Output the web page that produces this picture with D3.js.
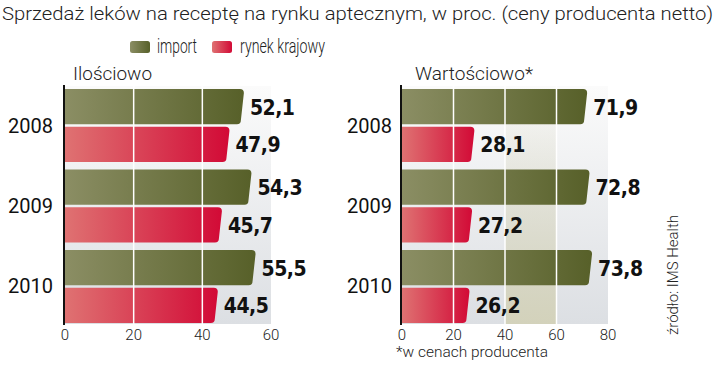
<!DOCTYPE html>
<html>
<head>
<meta charset="utf-8">
<script src="https://cdn.jsdelivr.net/npm/d3@7"></script>
<style>
  body { margin: 0; background: #fff; }
  svg { display: block; }
  .light { font-family: Roboto, "Noto Sans", sans-serif; font-weight: 300; fill: #222; }
  .val { font-family: "DejaVu Sans Condensed", "DejaVu Sans", sans-serif; font-weight: bold; font-stretch: condensed; fill: #111; letter-spacing: -0.5px; }
  .year { font-family: Roboto, "Noto Sans", sans-serif; font-weight: 400; fill: #111; }
</style>
</head>
<body>
<div id="chart"></div>
<script>
// dane
const years = ["2008", "2009", "2010"];
const series = ["import", "rynek krajowy"];
const ilosciowoImport = [52.1, 54.3, 55.5];
const ilosciowoKrajowy = [47.9, 45.7, 44.5];
const wartosciowoImport = [71.9, 72.8, 73.8];
const wartosciowoKrajowy = [28.1, 27.2, 26.2];
const ticksLeft = [0, 20, 40, 60];
const ticksRight = [0, 20, 40, 60, 80];

const W = 720, H = 367;
const svg = d3.select("#chart").append("svg").attr("width", W).attr("height", H);

// gradienty
const defs = svg.append("defs");
const grad = (id, c0, c1, vertical) => {
  const g = defs.append("linearGradient").attr("id", id)
    .attr("x1", 0).attr("y1", 0).attr("x2", vertical ? 0 : 1).attr("y2", vertical ? 1 : 0);
  g.append("stop").attr("offset", "0%").attr("stop-color", c0);
  g.append("stop").attr("offset", "100%").attr("stop-color", c1);
};
grad("gImport", "#8b8e64", "#576029");
grad("gKraj", "#df7272", "#d20a36");
grad("gBg", "#fbfbfb", "#dcdfe3", true);
grad("gBand", "rgba(215,213,190,0)", "#d3d2bb", true);

const colors = { "import": "url(#gImport)", "rynek krajowy": "url(#gKraj)" };

// tytuł
svg.append("text").attr("class", "light")
  .attr("x", 2).attr("y", 20)
  .attr("font-size", 19)
  .attr("textLength", 711).attr("lengthAdjust", "spacingAndGlyphs")
  .text("Sprzedaż leków na receptę na rynku aptecznym, w proc. (ceny producenta netto)");

// legenda
const legend = [{ name: "import", x: 130, tx: 157, w: 40 }, { name: "rynek krajowy", x: 212, tx: 240, w: 85 }];
legend.forEach(l => {
  svg.append("rect").attr("x", l.x).attr("y", 41).attr("width", 20).attr("height", 12)
    .attr("rx", 2.5).attr("fill", colors[l.name]);
  svg.append("text").attr("class", "light").attr("x", l.tx).attr("y", 53)
    .attr("font-size", 19.5).attr("textLength", l.w).attr("lengthAdjust", "spacingAndGlyphs")
    .text(l.name);
});

// ścieżka słupka z zaokrąglonym, skośnym końcem
const barPath = (x0, y0, x1, h) => {
  const r = 4, s = 3;
  return `M${x0},${y0}H${x1 - r}Q${x1},${y0} ${x1},${y0 + r}` +
    `L${x1 - s},${y0 + h - r}Q${x1 - s},${y0 + h} ${x1 - s - r},${y0 + h}H${x0}Z`;
};

const y = d3.scaleBand().domain(years).range([89, 323]).paddingInner(0.093).paddingOuter(0);
const ySub = d3.scaleBand().domain(series).range([0, y.bandwidth()]).paddingInner(0.07);

function panel(opt) {
  const x = d3.scaleLinear().domain([0, opt.max]).range([opt.x0, opt.x1]);
  const g = svg.append("g");

  // tło
  g.append("rect").attr("x", x(0)).attr("y", 86).attr("width", x(opt.max) - x(0))
    .attr("height", 238).attr("fill", "url(#gBg)");
  if (opt.band) {
    g.append("rect").attr("x", x(opt.band[0])).attr("y", 86)
      .attr("width", x(opt.band[1]) - x(opt.band[0])).attr("height", 238)
      .attr("fill", "url(#gBand)");
  }

  const rows = [];
  years.forEach((yr, i) => {
    rows.push({ year: yr, s: "import", v: opt.imp[i] });
    rows.push({ year: yr, s: "rynek krajowy", v: opt.kraj[i] });
  });

  g.selectAll("path.bar").data(rows).enter().append("path")
    .attr("class", "bar")
    .attr("d", d => barPath(x(0), y(d.year) + ySub(d.s), x(d.v), ySub.bandwidth()))
    .attr("fill", d => colors[d.s]);

  // linie siatki
  g.selectAll("line.grid").data(opt.ticks.filter(t => t > 0 && t < opt.max)).enter()
    .append("line").attr("class", "grid")
    .attr("x1", d => x(d)).attr("x2", d => x(d))
    .attr("y1", 86).attr("y2", 324)
    .attr("stroke", "#fff").attr("stroke-width", 1.5);

  // wartości
  g.selectAll("text.val").data(rows).enter().append("text")
    .attr("class", "val")
    .attr("x", d => x(d.v) + 6)
    .attr("y", d => y(d.year) + ySub(d.s) + ySub.bandwidth() / 2 + 8)
    .attr("font-size", 21)
    .text(d => d3.format(".1f")(d.v).replace(".", ","));

  // oś
  g.append("line").attr("x1", x(0) - 1).attr("x2", x(0) - 1).attr("y1", 85).attr("y2", 325)
    .attr("stroke", "#111").attr("stroke-width", 2);

  g.selectAll("text.tick").data(opt.ticks).enter().append("text")
    .attr("class", "light").attr("x", d => x(d)).attr("y", 340)
    .attr("text-anchor", "middle").attr("font-size", 15).attr("fill", "#444")
    .text(d => d);

  // lata
  g.selectAll("text.year").data(years).enter().append("text")
    .attr("class", "year")
    .attr("x", opt.yearX).attr("y", d => y(d) + y.bandwidth() / 2 + 7)
    .attr("text-anchor", "end").attr("font-size", 20)
    .text(d => d);

  g.append("text").attr("class", "light").attr("x", opt.titleX).attr("y", 80)
    .attr("font-size", 18).attr("textLength", opt.titleW).attr("lengthAdjust", "spacingAndGlyphs")
    .text(opt.title);
}

panel({ x0: 65, x1: 271, max: 60, ticks: ticksLeft, imp: ilosciowoImport, kraj: ilosciowoKrajowy,
  yearX: 53, title: "Ilościowo", titleX: 73, titleW: 79 });
panel({ x0: 402, x1: 608, max: 80, ticks: ticksRight, imp: wartosciowoImport, kraj: wartosciowoKrajowy,
  yearX: 392, title: "Wartościowo*", titleX: 415, titleW: 118, band: [40, 60] });

// przypis i źródło
svg.append("text").attr("class", "light").attr("x", 396).attr("y", 357)
  .attr("font-size", 14.5).attr("textLength", 152).attr("lengthAdjust", "spacingAndGlyphs")
  .text("*w cenach producenta");

svg.append("text").attr("class", "light")
  .attr("transform", "translate(678,335) rotate(-90)")
  .attr("font-size", 14).attr("fill", "#333")
  .attr("textLength", 120).attr("lengthAdjust", "spacingAndGlyphs")
  .text("źródło: IMS Health");
</script>
</body>
</html>
